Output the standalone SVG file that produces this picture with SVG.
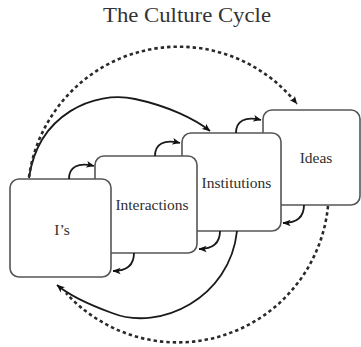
<svg xmlns="http://www.w3.org/2000/svg" width="361" height="347" viewBox="0 0 361 347">
  <style>
    .box { fill: #fff; stroke: #555; stroke-width: 1.6; }
    .label { font-family: "Liberation Serif", "DejaVu Serif", serif; font-size: 15.5px; fill: #2e2e2e; text-anchor: middle; }
    .title { font-family: "Liberation Serif", "DejaVu Serif", serif; font-size: 22px; fill: #333; text-anchor: middle; }
    .solid { fill: none; stroke: #1a1a1a; stroke-width: 1.8; }
    .dotted { fill: none; stroke: #2a2a2a; stroke-width: 2.6; stroke-dasharray: 3.4 3; }
  </style>
  <defs>
    <marker id="ah" viewBox="0 0 10 10" refX="9.5" refY="5" markerWidth="8" markerHeight="8" orient="auto" markerUnits="userSpaceOnUse">
      <path d="M0,0.8 L10,5 L0,9.2 L2.5,5 z" fill="#111"/>
    </marker>
  </defs>

  <rect width="361" height="347" fill="#fff"/>

  <text class="title" x="187" y="22" textLength="168" lengthAdjust="spacingAndGlyphs">The Culture Cycle</text>

  <!-- boxes, back to front -->
  <g id="ideas">
    <rect class="box" x="263" y="110" width="97" height="95" rx="9"/>
    <text class="label" x="316" y="163">Ideas</text>
  </g>
  <g id="institutions">
    <rect class="box" x="182" y="133" width="99" height="98" rx="9"/>
    <text class="label" x="236.5" y="188">Institutions</text>
  </g>
  <g id="interactions">
    <rect class="box" x="95" y="156" width="102" height="97" rx="9"/>
    <text class="label" x="152" y="210">Interactions</text>
  </g>
  <g id="is">
    <rect class="box" x="10" y="179" width="101" height="98" rx="9"/>
    <text class="label" x="62" y="235">I’s</text>
  </g>

  <g id="connectors">
    <!-- small forward steps -->
    <path class="solid" d="M69,179 C69,167 78,162 94,166" marker-end="url(#ah)"/>
    <path class="solid" d="M155,156 C155,144 164,139 180,143" marker-end="url(#ah)"/>
    <path class="solid" d="M236,133 C236,121 245,116 261,120" marker-end="url(#ah)"/>
    <!-- small return steps -->
    <path class="solid" d="M134,253 C134,265 127,271 113,271" marker-end="url(#ah)"/>
    <path class="solid" d="M220,231 C220,243 213,249 199,249" marker-end="url(#ah)"/>
    <path class="solid" d="M304,205 C304,217 297,223 283,223" marker-end="url(#ah)"/>
    <!-- large solid loops -->
    <path class="solid" d="M29,178 C38,114 95,90 135,99 C168,106 195,119 210,131" marker-end="url(#ah)"/>
    <path class="solid" d="M237,231 C230,298 160,332 112,313 C90,305 70,296 57,285" marker-end="url(#ah)"/>
    <!-- outer dotted loops -->
    <path class="dotted" d="M29,177 A151,151 0 0 1 297,104" marker-end="url(#ah)"/>
    <path class="dotted" d="M328,206 A151,151 0 0 1 66,293"/>
  </g>
</svg>
